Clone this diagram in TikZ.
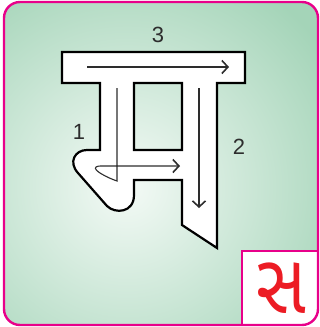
\documentclass[tikz,border=0pt]{standalone}
\usepackage{fontspec}
\setmainfont{Liberation Sans}
\newfontfamily\gujfont[Script=Gujarati]{Noto Sans Gujarati UI}
\usetikzlibrary{arrows.meta}
\usepackage{xcolor}
\definecolor{cmagenta}{RGB}{232,0,138}
\definecolor{cvertfond}{RGB}{164,212,184}
\definecolor{cclair}{RGB}{244,250,246}
\definecolor{crouge}{RGB}{236,28,36}
\definecolor{ctrait}{RGB}{45,45,45}

\begin{document}
\begin{tikzpicture}[x=1pt, y=-1pt, >={Straight Barb[length=6pt,width=13pt,line width=1.6pt]}]
\tikzset{fleche/.style={ctrait, line width=1.1pt},
  chiffre/.style={font=\fontsize{22}{26}\selectfont, text=ctrait}}
\useasboundingbox (0,0) rectangle (320,327);
% fond et cadre
\begin{scope}
\clip[rounded corners=16pt] (4,2) rectangle (318,325);
\fill[cvertfond] (0,0) rectangle (320,327);
\shade[inner color=cclair, outer color=cvertfond] (127,187) circle (240pt);
\fill[white] (242,251) rectangle (320,327);
\draw[cmagenta, line width=2.2pt] (242,327) -- (242,251) -- (320,251);
\end{scope}
\draw[cmagenta, line width=2.4pt, rounded corners=16pt] (4,2) rectangle (318,325);
% contour de la lettre
\draw[line width=2.2pt, fill=white, even odd rule]
  (62,52) -- (245,52) -- (245,83) -- (217,83) -- (217,248) -- (182,225)
  -- (182,180) -- (134,180) -- (134,195) .. controls (134,213) and (115,214) .. (107,206)
  -- (78,173) .. controls (68,162) and (75,150) .. (87,150) -- (100,150) -- (100,83)
  -- (62,83) -- cycle
  (134,83) rectangle (182,150);
% traits
\coordinate (H1) at (87,67); \coordinate (H2) at (229,67);
\coordinate (G1) at (117,88); \coordinate (G2) at (117,181);
\coordinate (B1) at (96,167); \coordinate (B2) at (180,166);
\coordinate (D1) at (199,88); \coordinate (D2) at (199,208);
\draw[fleche,->] (H1) -- (H2);
\draw[fleche,->] (G1) -- (G2) .. controls (108,178) and (92,170) .. (B1)
  .. controls (98,166) .. (104,166) -- (B2);
\draw[fleche,->] (D1) -- (D2);
\foreach \n/\x/\y/\t in {n3/158/35/3,n1/79/132/1,n2/239/147/2}
  {\node[chiffre] (\n) at (\x,\y) {\t};}
\node[text=crouge, inner sep=0pt, text height=54pt, text depth=0pt, anchor=base,
  font=\gujfont\fontsize{70}{74}\selectfont] (lettre) at (281,313)
  {\scalebox{1}[1.2]{સ}};
\end{tikzpicture}
\end{document}
